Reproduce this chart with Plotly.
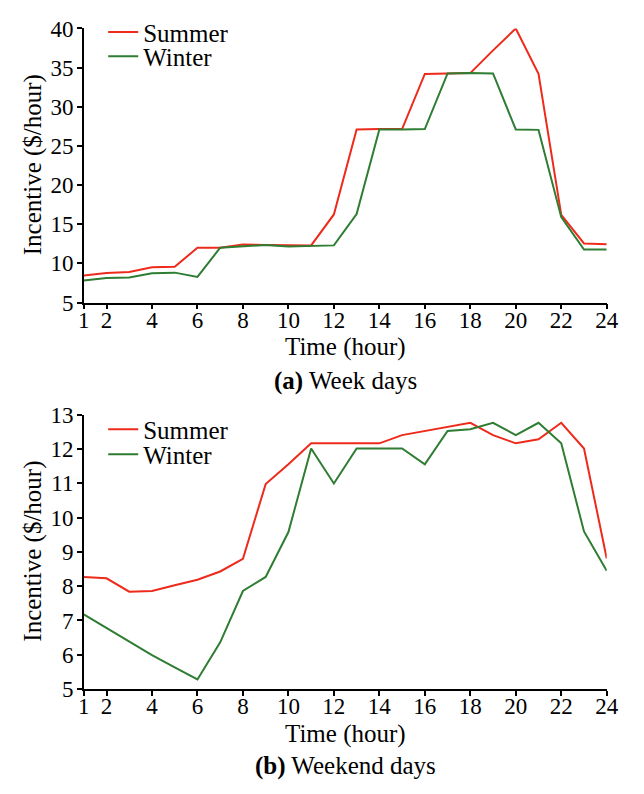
import plotly.graph_objects as go
from plotly.subplots import make_subplots

hours = list(range(1, 25))
x_ticks = [1, 2, 4, 6, 8, 10, 12, 14, 16, 18, 20, 22, 24]

# Week days incentive ($/hour)
weekday_summer = [8.44, 8.78, 8.9, 9.5, 9.56, 12.0, 12.0, 12.4, 12.35, 12.35, 12.3, 16.25,
                  27.1, 27.15, 27.15, 34.2, 34.25, 34.3, 37.2, 40.0, 34.2, 16.2, 12.55, 12.45]
weekday_winter = [7.82, 8.15, 8.2, 8.74, 8.82, 8.28, 12.0, 12.15, 12.35, 12.15, 12.2, 12.3,
                  16.3, 27.1, 27.1, 27.15, 34.25, 34.3, 34.25, 27.1, 27.05, 15.9, 11.77, 11.77]

# Weekend days incentive ($/hour)
weekend_summer = [8.27, 8.23, 7.84, 7.86, 8.03, 8.19, 8.43, 8.8, 10.98, 11.56, 12.17, 12.17,
                  12.17, 12.17, 12.41, 12.53, 12.65, 12.77, 12.41, 12.17, 12.29, 12.77, 12.02, 8.81]
weekend_winter = [7.18, 6.79, 6.38, 5.99, 5.63, 5.28, 6.36, 7.86, 8.27, 9.58, 12.02, 11.0,
                  12.02, 12.02, 12.02, 11.56, 12.53, 12.58, 12.77, 12.41, 12.77, 12.17, 9.6, 8.45]

RED = "#EE2A1B"
GREEN = "#2E7D32"
FONT = "Liberation Serif"
W, H = 644, 794

fig = make_subplots(rows=2, cols=1)

# one legend per entry so the two rows sit close together
panels = [
    (1, weekday_summer, weekday_winter, ("legend", "legend2")),
    (2, weekend_summer, weekend_winter, ("legend3", "legend4")),
]
for row, summer, winter, legs in panels:
    fig.add_trace(go.Scatter(x=hours, y=summer, mode="lines", name="Summer",
                             line=dict(color=RED, width=2), legend=legs[0]), row=row, col=1)
    fig.add_trace(go.Scatter(x=hours, y=winter, mode="lines", name="Winter",
                             line=dict(color=GREEN, width=2), legend=legs[1]), row=row, col=1)

axis_common = dict(showline=True, linecolor="black", linewidth=1.5, ticks="outside",
                   ticklen=5, tickwidth=1.5, tickcolor="black", showgrid=False,
                   zeroline=False, tickfont=dict(family=FONT, size=23, color="black"))

fig.update_xaxes(range=[1, 24], tickvals=x_ticks, domain=[80 / W, 618 / W],
                 ticklabelstandoff=-9, **axis_common)
fig.update_yaxes(ticklabelstandoff=-1, **axis_common)
fig.update_yaxes(range=[5, 40], tickvals=[5, 10, 15, 20, 25, 30, 35, 40],
                 domain=[494 / H, 777 / H], row=1, col=1)
fig.update_yaxes(range=[5, 13], tickvals=list(range(5, 14)),
                 domain=[95 / H, 378 / H], row=2, col=1)

legend_style = dict(font=dict(family=FONT, size=25, color="black"), bgcolor="rgba(0,0,0,0)",
                    xanchor="left", yanchor="middle", itemwidth=30)

annotations = []
title_font = dict(family=FONT, size=25, color="black")
for y_mid, x_title_y, cap_y, cap in [
    (1 - 158 / H, 1 - 346 / H, 1 - 381 / H, "<b>(a)</b> Week days"),
    (1 - 557 / H, 1 - 745 / H, 1 - 779 / H, "<b>(b)</b> Weekend days"),
]:
    annotations.append(dict(text="Incentive ($/hour)", x=28 / W, y=y_mid, xref="paper",
                            yref="paper", textangle=-90, showarrow=False, font=title_font,
                            xanchor="center", yanchor="middle"))
    annotations.append(dict(text="Time (hour)", x=349 / W, y=x_title_y, xref="paper",
                            yref="paper", showarrow=False, font=title_font,
                            xanchor="center", yanchor="middle"))
    annotations.append(dict(text=cap, x=349 / W, y=cap_y, xref="paper", yref="paper",
                            showarrow=False, font=title_font, xanchor="center",
                            yanchor="middle"))

fig.update_layout(
    width=W, height=H,
    margin=dict(l=0, r=0, t=0, b=0),
    paper_bgcolor="white", plot_bgcolor="white",
    showlegend=True,
    legend=dict(x=100 / W, y=1 - 21 / H, **legend_style),
    legend2=dict(x=100 / W, y=1 - 46 / H, **legend_style),
    legend3=dict(x=100 / W, y=1 - 431 / H, **legend_style),
    legend4=dict(x=100 / W, y=1 - 457 / H, **legend_style),
    annotations=annotations,
)

fig.write_html("out.html")
